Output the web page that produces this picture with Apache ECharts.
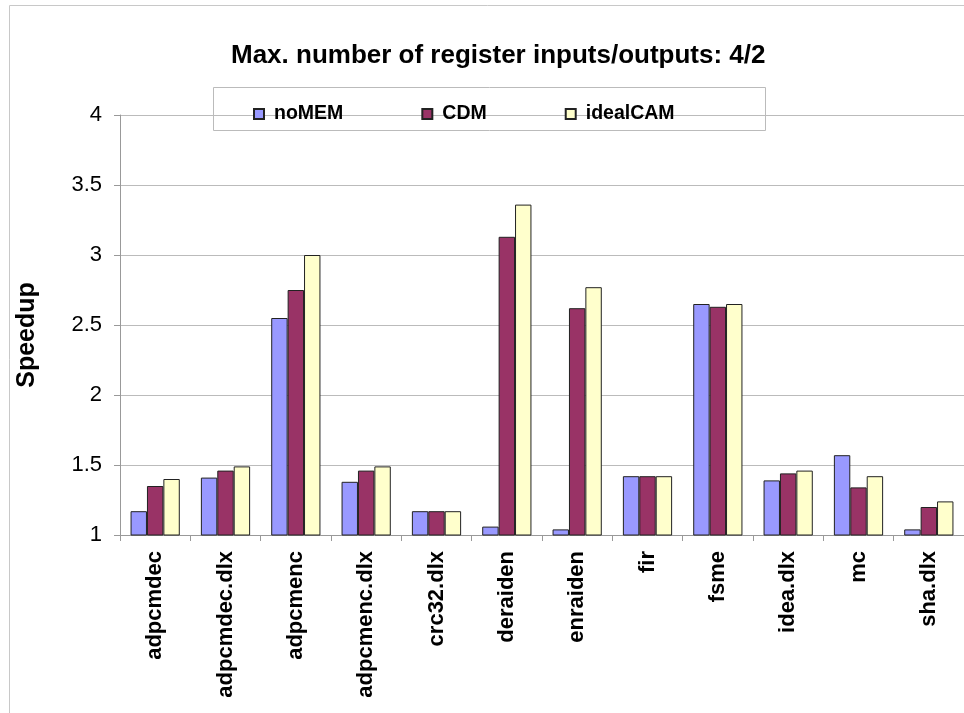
<!DOCTYPE html>
<html><head><meta charset="utf-8">
<script src="https://cdn.jsdelivr.net/npm/echarts@6/dist/echarts.min.js"></script>
<style>html,body{margin:0;padding:0;background:#fff}#c{width:964px;height:713px}</style>
</head><body><div id="c"></div>
<script>
const categories = ["adpcmdec","adpcmdec.dlx","adpcmenc","adpcmenc.dlx","crc32.dlx","deraiden","enraiden","fir","fsme","idea.dlx","mc","sha.dlx"];
const noMEM    = [1.17, 1.41, 2.55, 1.38, 1.17, 1.06, 1.04, 1.42, 2.65, 1.39, 1.57, 1.04];
const CDM      = [1.35, 1.46, 2.75, 1.46, 1.17, 3.13, 2.62, 1.42, 2.63, 1.44, 1.34, 1.20];
const idealCAM = [1.40, 1.49, 3.00, 1.49, 1.17, 3.36, 2.77, 1.42, 2.65, 1.46, 1.42, 1.24];
const yTicks = [1, 1.5, 2, 2.5, 3, 3.5, 4];

const chart = echarts.init(document.getElementById('c'));
const barStyle = c => ({color: c, borderColor: '#222', borderWidth: 1});
chart.setOption({
  animation: false,
  textStyle: {fontFamily: 'Liberation Sans, Arial, sans-serif'},
  graphic: [
    {type: 'rect', shape: {x: 9.5, y: 5.5, width: 980, height: 720}, style: {fill: 'none', stroke: '#c8c8c8', lineWidth: 1}},
    {type: 'rect', shape: {x: 213.5, y: 87.5, width: 552, height: 43}, style: {fill: '#fff', stroke: '#bbb', lineWidth: 1}, z: 0}
  ],
  title: {
    text: 'Max. number of register inputs/outputs: 4/2',
    left: 226, top: 38,
    textStyle: {fontFamily: 'Liberation Sans, Arial', fontWeight: 'bold', fontSize: 26, color: '#000'}
  },
  legend: {
    data: ['noMEM', 'CDM', 'idealCAM'],
    top: 99, left: 248,
    itemGap: 78, itemWidth: 10, itemHeight: 10,
    icon: 'rect',
    textStyle: {fontWeight: 'bold', fontSize: 19.5, color: '#000', fontFamily: 'Liberation Sans, Arial', padding: [0, 0, 0, 5]}
  },
  grid: {left: 120, top: 115, bottom: 178, right: -3, containLabel: false},
  xAxis: {
    type: 'category', data: categories,
    axisLine: {lineStyle: {color: '#999'}},
    axisTick: {show: true, length: 6, lineStyle: {color: '#999'}},
    axisLabel: {rotate: 90, interval: 0, fontWeight: 'bold', fontSize: 22, color: '#000', margin: 16}
  },
  yAxis: {
    type: 'value', min: 1, max: 4, interval: 0.5,
    name: 'Speedup', nameLocation: 'middle', nameGap: 80, nameRotate: 90,
    nameTextStyle: {fontWeight: 'bold', fontSize: 25, color: '#000', padding: [0, 20, 0, 0]},
    axisLine: {show: true, lineStyle: {color: '#999'}},
    axisTick: {show: true, length: 6, lineStyle: {color: '#999'}},
    axisLabel: {fontSize: 22, color: '#000', margin: 18,
      formatter: v => yTicks.includes(v) ? String(v) : ''},
    splitLine: {lineStyle: {color: '#bbb'}}
  },
  series: [
    {name: 'noMEM', type: 'bar', data: noMEM, itemStyle: barStyle('#9999FF'), barGap: '0%', barCategoryGap: '30%'},
    {name: 'CDM', type: 'bar', data: CDM, itemStyle: barStyle('#993366'), barGap: '0%', barCategoryGap: '30%'},
    {name: 'idealCAM', type: 'bar', data: idealCAM, itemStyle: barStyle('#FFFFCC'), barGap: '0%', barCategoryGap: '30%'}
  ]
});
</script></body></html>
